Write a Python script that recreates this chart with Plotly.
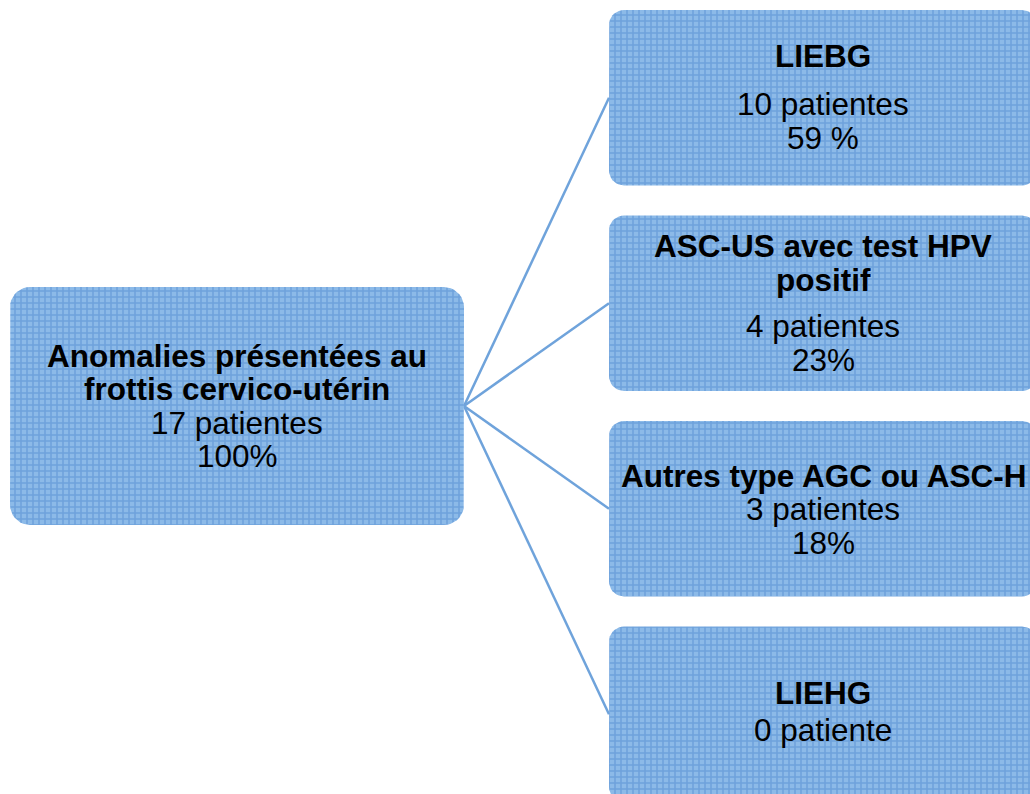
import numpy as np
import plotly.graph_objects as go

# ---- data ----
root_title = ["Anomalies présentées au", "frottis cervico-utérin"]
root_count = 17
root_pct = "100%"

child_titles = [["LIEBG"], ["ASC-US avec test HPV", "positif"], ["Autres type AGC ou ASC-H"], ["LIEHG"]]
child_counts = [10, 4, 3, 0]
child_pcts = ["59 %", "23%", "18%", ""]

# ---- layout geometry ----
W, H = 1030, 794
FILL_BG = "#8cbae8"
FILL_FG = "#5089d0"
LINE_C = "#6fa3db"
FONT = "Liberation Sans, Arial, sans-serif"
FS = 31.5
LH = 33.5


def rounded_rect(x0, y0, x1, y1, r, n=10):
    xs, ys = [], []
    corners = [(x1 - r, y0 + r, -90, 0), (x1 - r, y1 - r, 0, 90),
               (x0 + r, y1 - r, 90, 180), (x0 + r, y0 + r, 180, 270)]
    for cx, cy, a0, a1 in corners:
        for a in np.linspace(np.radians(a0), np.radians(a1), n):
            xs.append(cx + r * np.cos(a))
            ys.append(cy + r * np.sin(a))
    xs.append(xs[0]); ys.append(ys[0])
    return xs, ys


fig = go.Figure()

root_box = (10, 287, 464, 525, 20)
child_x0, child_x1 = 609, 1037
child_tops = [10, 215.5, 421, 626.5]
child_h = 175.5

boxes = [root_box] + [(child_x0, t, child_x1, t + child_h, 15) for t in child_tops]

# connectors
jx, jy = root_box[2], (root_box[1] + root_box[3]) / 2
for t in child_tops:
    fig.add_trace(go.Scatter(x=[jx, child_x0], y=[jy, t + child_h / 2], mode="lines",
                             line=dict(color=LINE_C, width=2.5), hoverinfo="skip",
                             showlegend=False))

for (x0, y0, x1, y1, r) in boxes:
    xs, ys = rounded_rect(x0, y0, x1, y1, r)
    fig.add_trace(go.Scatter(x=xs, y=ys, mode="lines", fill="toself",
                             line=dict(width=0, color=FILL_BG),
                             fillcolor=FILL_BG,
                             fillpattern=dict(shape="+", size=6, solidity=0.45,
                                              fgcolor=FILL_FG, bgcolor=FILL_BG),
                             hoverinfo="skip", showlegend=False))


def add_lines(cx, lines):
    for text, y, bold in lines:
        fig.add_annotation(x=cx, y=y, text=f"<b>{text}</b>" if bold else text,
                           showarrow=False, xanchor="center", yanchor="middle",
                           font=dict(family=FONT, size=FS, color="#000000"))


def count_text(n):
    return f"{n} patiente" + ("s" if n > 1 else "")


# root text
rcx = (root_box[0] + root_box[2]) / 2
rl = [(root_title[0], 356, True), (root_title[1], 389, True),
      (count_text(root_count), 423, False), (root_pct, 456, False)]
add_lines(rcx, rl)

# children text
ccx = (child_x0 + child_x1) / 2
child_layout = [
    [56],            # title line centers
    [246, 280],
    [476],
    [693],
]
count_gap = [48, 46, 33, 37]
for i, t in enumerate(child_titles):
    lines = []
    ys = child_layout[i]
    for text, y in zip(t, ys):
        lines.append((text, y, True))
    yc = ys[-1] + count_gap[i]
    lines.append((count_text(child_counts[i]), yc, False))
    if child_pcts[i]:
        lines.append((child_pcts[i], yc + LH, False))
    add_lines(ccx, lines)

fig.update_layout(
    width=W, height=H, margin=dict(l=0, r=0, t=0, b=0),
    paper_bgcolor="white", plot_bgcolor="white",
    xaxis=dict(range=[0, W], visible=False, fixedrange=True),
    yaxis=dict(range=[H, 0], visible=False, fixedrange=True),
    showlegend=False,
)

fig.write_html("out.html", config={"displayModeBar": False},
               post_script="document.body.style.margin='0';")
